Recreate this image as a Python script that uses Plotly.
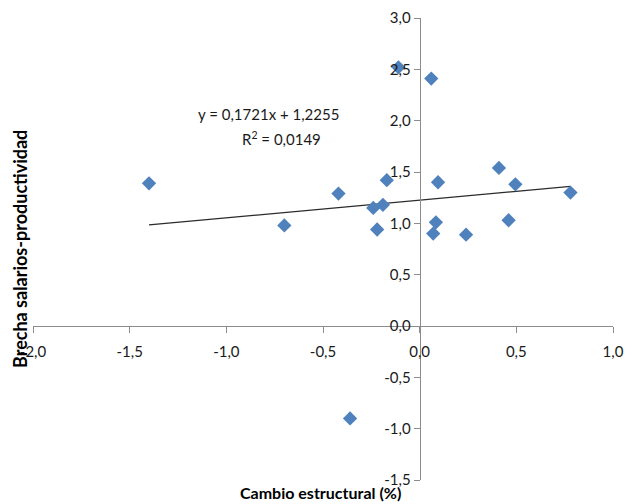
import plotly.graph_objects as go

# Data
cambio_estructural = [-1.40, -0.70, -0.42, -0.24, -0.19, -0.17, -0.22, -0.11, 0.06,
                      0.095, 0.084, 0.07, 0.24, 0.41, 0.46, 0.495, 0.78, -0.36]
brecha = [1.39, 0.98, 1.29, 1.15, 1.18, 1.42, 0.94, 2.52, 2.41,
          1.40, 1.01, 0.90, 0.89, 1.54, 1.03, 1.38, 1.30, -0.90]

slope = 0.1721
intercept = 1.2255
r2 = 0.0149

x_ticks = [-2.0, -1.5, -1.0, -0.5, 0.0, 0.5, 1.0]
x_ticklabels = ["-2,0", "-1,5", "-1,0", "-0,5", "0,0", "0,5", "1,0"]
y_ticks = [-1.5, -1.0, -0.5, 0.0, 0.5, 1.0, 1.5, 2.0, 2.5, 3.0]
y_ticklabels = ["-1,5", "-1,0", "-0,5", "0,0", "0,5", "1,0", "1,5", "2,0", "2,5", "3,0"]

x_title = "Cambio estructural (%)"
y_title = "Brecha salarios-productividad"

xmin, xmax = -2.0, 1.0
ymin, ymax = -1.5, 3.0

trend_x = [min(cambio_estructural), max(cambio_estructural)]
trend_y = [slope * v + intercept for v in trend_x]

font_family = "Lato, Open Sans, Arial"

fig = go.Figure()
fig.add_trace(go.Scatter(
    x=trend_x, y=trend_y, mode="lines",
    line=dict(color="#2b2b2b", width=1.2), hoverinfo="skip", showlegend=False))
fig.add_trace(go.Scatter(
    x=cambio_estructural, y=brecha, mode="markers",
    marker=dict(symbol="diamond", size=11, color="#4F81BD"),
    showlegend=False))

eq_text = f"y = {slope:.4f}x + {intercept:.4f}".replace(".", ",")
r2_text = "R<sup>2</sup> = " + f"{r2:.4f}".replace(".", ",")

PL, PT, PW, PH = 32.7, 17.7, 580.0, 462.3


def px(xp):
    return (xp - PL) / PW


def py(yp):
    return 1 - (yp - PT) / PH


axis_color = "#8c8c8c"
fig.update_layout(
    width=637, height=504,
    margin=dict(l=25, r=32, t=10, b=32, autoexpand=False),
    plot_bgcolor="white", paper_bgcolor="white",
    font=dict(family=font_family, size=15, color="#1a1a1a"),
    xaxis=dict(
        range=[xmin, xmax], domain=[0, 1], anchor="free",
        position=(0 - ymin) / (ymax - ymin), automargin=False,
        tickvals=x_ticks, ticktext=x_ticklabels,
        showline=True, linecolor=axis_color, linewidth=1,
        ticks="outside", ticklen=6, tickcolor=axis_color,
        ticklabelstandoff=6,
        showgrid=False, zeroline=False),
    yaxis=dict(
        range=[ymin, ymax], domain=[0, 1], anchor="free",
        position=(0 - xmin) / (xmax - xmin), automargin=False,
        tickvals=y_ticks, ticktext=y_ticklabels,
        showline=True, linecolor=axis_color, linewidth=1,
        ticks="outside", ticklen=6, tickcolor=axis_color,
        showgrid=False, zeroline=False),
    annotations=[
        dict(text=x_title, xref="paper", yref="paper", x=0.495, y=0,
             yanchor="middle", xanchor="center", showarrow=False, yshift=-12,
             font=dict(size=16, family=font_family, color="#000000",
                       weight="bold")),
        dict(text=y_title, xref="paper", yref="paper", x=0, y=0.5,
             xanchor="center", yanchor="middle", textangle=-90, showarrow=False,
             xshift=-13,
             font=dict(size=18, family=font_family, color="#000000",
                       weight="bold")),
        dict(text=eq_text, xref="paper", yref="paper", x=px(268), y=py(114),
             xanchor="center", yanchor="middle", showarrow=False,
             font=dict(size=15, family=font_family, color="#1a1a1a")),
        dict(text=r2_text, xref="paper", yref="paper", x=px(281), y=py(138),
             xanchor="center", yanchor="middle", showarrow=False,
             font=dict(size=15, family=font_family, color="#1a1a1a")),
    ],
)

fig.write_html("out.html")
